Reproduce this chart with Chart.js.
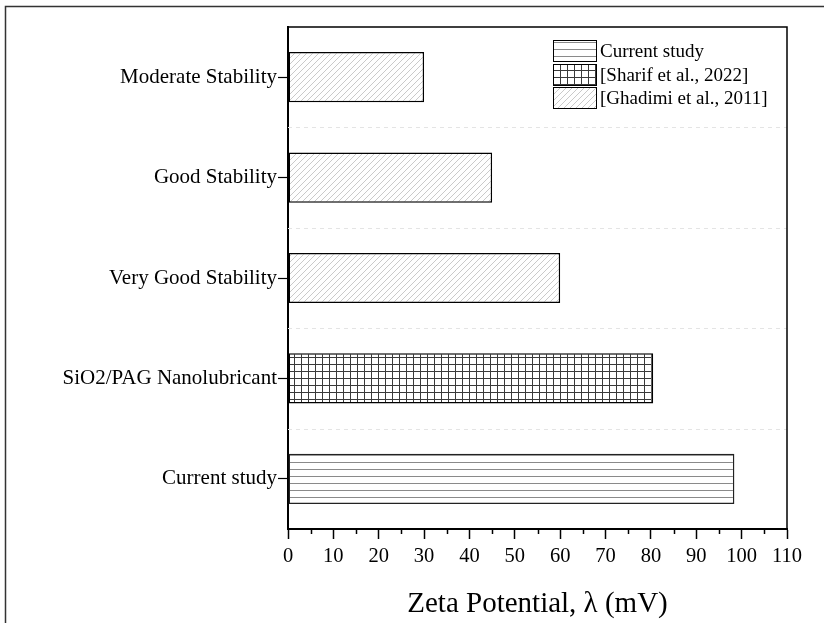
<!DOCTYPE html>
<html>
<head>
<meta charset="utf-8">
<script src="https://cdn.jsdelivr.net/npm/chart.js@4.4.1/dist/chart.umd.min.js"></script>
<style>
  html, body { margin: 0; padding: 0; background: #fff; }
  canvas { display: block; }
</style>
</head>
<body>
<canvas id="zetaChart" width="824" height="623"></canvas>
<script>
// categories, top to bottom
const categories = [
    "Moderate Stability",
    "Good Stability",
    "Very Good Stability",
    "SiO2/PAG Nanolubricant",
    "Current study",
];
const currentStudy = [null, null, null, null, 98.4];
const sharif2022 = [null, null, null, 80.5, null];
const ghadimi2011 = [30, 45, 60, null, null];
const xTicks = [0, 10, 20, 30, 40, 50, 60, 70, 80, 90, 100, 110];
const xMinorTicks = [5, 15, 25, 35, 45, 55, 65, 75, 85, 95, 105];

const ctx = document.getElementById("zetaChart").getContext("2d");

// hatch patterns
function makePattern(w, h, draw) {
    const c = document.createElement("canvas");
    c.width = w;
    c.height = h;
    const p = c.getContext("2d");
    p.fillStyle = "#fff";
    p.fillRect(0, 0, w, h);
    draw(p);
    return ctx.createPattern(c, "repeat");
}

const horizPattern = makePattern(8, 7, (p) => {
    p.fillStyle = "#8a8a8a";
    p.fillRect(0, 0, 8, 1);
});

const gridPattern = makePattern(7, 7, (p) => {
    p.fillStyle = "#3a3a3a";
    p.fillRect(0, 0, 7, 1);
    p.fillRect(0, 0, 1, 7);
});

const diagPattern = makePattern(6, 6, (p) => {
    p.strokeStyle = "#bdbdbd";
    p.lineWidth = 0.8;
    p.beginPath();
    p.moveTo(-1, 7);
    p.lineTo(7, -1);
    p.moveTo(-1, 1);
    p.lineTo(1, -1);
    p.moveTo(5, 7);
    p.lineTo(7, 5);
    p.stroke();
});

Chart.defaults.font.family = "'Liberation Serif', 'Times New Roman', serif";
Chart.defaults.color = "#000";

// frame, minor ticks, dashed separators, legend
const decorations = {
    id: "decorations",
    beforeDatasetsDraw(chart) {
        const { ctx, chartArea: a, scales } = chart;
        const y = scales.y;
        ctx.save();
        ctx.strokeStyle = "#e4e4e4";
        ctx.lineWidth = 1;
        ctx.setLineDash([4, 4]);
        for (let i = 0; i < categories.length - 1; i++) {
            const py = Math.round((y.getPixelForTick(i) + y.getPixelForTick(i + 1)) / 2) + 0.5;
            ctx.beginPath();
            ctx.moveTo(a.left, py);
            ctx.lineTo(a.right, py);
            ctx.stroke();
        }
        ctx.restore();
    },
    afterDraw(chart) {
        const { ctx, chartArea: a, scales } = chart;
        const x = scales.x;
        ctx.save();
        // plot box top and right
        ctx.strokeStyle = "#000";
        ctx.lineWidth = 1.5;
        ctx.beginPath();
        ctx.moveTo(a.left, a.top);
        ctx.lineTo(a.right, a.top);
        ctx.lineTo(a.right, a.bottom);
        ctx.stroke();
        // minor ticks
        xMinorTicks.forEach((v) => {
            const px = Math.round(x.getPixelForValue(v)) + 0.5;
            ctx.beginPath();
            ctx.moveTo(px, a.bottom);
            ctx.lineTo(px, a.bottom + 5);
            ctx.stroke();
        });
        // outer frame
        ctx.strokeStyle = "#333";
        ctx.lineWidth = 1.5;
        ctx.strokeRect(5.5, 6.5, 900, 900);
        // legend
        const lx = 553, ly = 40, bw = 43, bh = 21, gap = 23.5;
        ctx.font = "19px 'Liberation Serif', serif";
        ctx.textBaseline = "middle";
        ctx.textAlign = "left";
        chart.data.datasets.forEach((ds, i) => {
            const top = Math.round(ly + i * gap) + 0.5;
            ctx.fillStyle = ds.backgroundColor;
            ctx.fillRect(lx, top, bw, bh);
            ctx.strokeStyle = "#000";
            ctx.lineWidth = 1;
            ctx.strokeRect(lx + 0.5, top, bw, bh);
            ctx.fillStyle = "#000";
            ctx.fillText(ds.label, lx + bw + 4, top + bh / 2 + 1);
        });
        ctx.restore();
    },
};

new Chart(ctx, {
    type: "bar",
    data: {
        labels: categories,
        datasets: [
            {
                label: "Current study",
                data: currentStudy,
                backgroundColor: horizPattern,
                borderColor: "#222",
                borderWidth: 1.5,
                borderSkipped: false,
                grouped: false,
                barPercentage: 0.5,
                categoryPercentage: 1,
            },
            {
                label: "[Sharif et al., 2022]",
                data: sharif2022,
                backgroundColor: gridPattern,
                borderColor: "#000",
                borderWidth: 1.5,
                borderSkipped: false,
                grouped: false,
                barPercentage: 0.5,
                categoryPercentage: 1,
            },
            {
                label: "[Ghadimi et al., 2011]",
                data: ghadimi2011,
                backgroundColor: diagPattern,
                borderColor: "#000",
                borderWidth: 1.5,
                borderSkipped: false,
                grouped: false,
                barPercentage: 0.5,
                categoryPercentage: 1,
            },
        ],
    },
    options: {
        indexAxis: "y",
        responsive: false,
        animation: false,
        layout: {
            padding: { left: 0, top: 27, right: 37, bottom: 0 },
        },
        scales: {
            x: {
                type: "linear",
                min: 0,
                max: 110,
                afterFit: (s) => { s.height = 94; },
                afterBuildTicks: (s) => { s.ticks = xTicks.map((v) => ({ value: v })); },
                ticks: {
                    font: { size: 20.5 },
                    padding: 5,
                },
                grid: {
                    drawOnChartArea: false,
                    tickLength: 10,
                    tickColor: "#000",
                    tickWidth: 1.5,
                },
                border: { color: "#000", width: 2 },
                title: {
                    display: true,
                    text: "Zeta Potential, λ (mV)",
                    font: { size: 29 },
                    padding: { top: 0, bottom: 1 },
                },
            },
            y: {
                type: "category",
                offset: true,
                afterFit: (s) => { s.width = 288; },
                ticks: {
                    font: { size: 21 },
                    padding: 1,
                },
                grid: {
                    offset: false,
                    drawOnChartArea: false,
                    tickLength: 10,
                    tickColor: "#000",
                    tickWidth: 1.2,
                },
                border: { color: "#000", width: 2 },
            },
        },
        plugins: {
            legend: { display: false },
            tooltip: { enabled: false },
        },
    },
    plugins: [decorations],
});
</script>
</body>
</html>
